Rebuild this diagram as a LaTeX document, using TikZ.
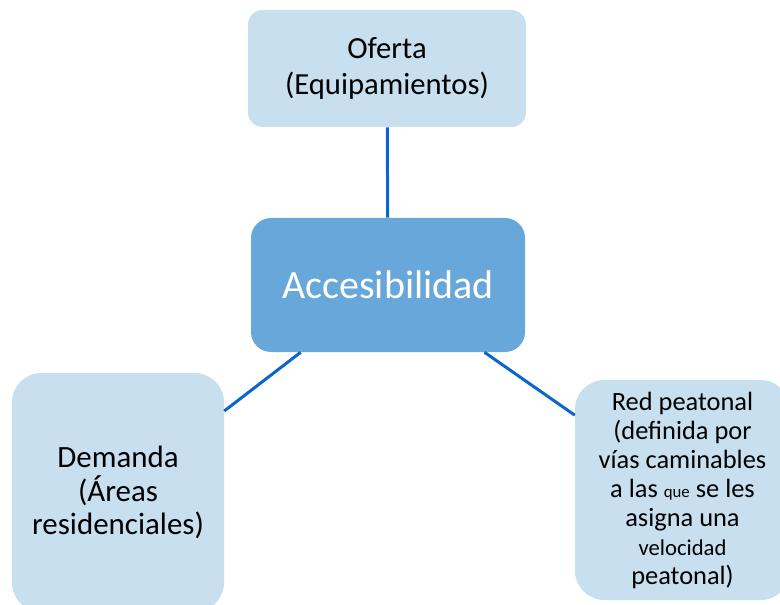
\documentclass[tikz,border=0pt]{standalone}
\usepackage{fontspec}
\setmainfont{Carlito}
\definecolor{boxlight}{RGB}{200,223,239}
\definecolor{boxdark}{RGB}{104,167,218}
\definecolor{linkblue}{RGB}{10,102,204}
\begin{document}
\begin{tikzpicture}[x=0.75pt,y=-0.75pt]

% definitions
\tikzstyle{oferta} = [rectangle, rounded corners=11pt, minimum width=208.5pt, minimum height=87.75pt, inner sep=0pt, align=center, fill=boxlight, font=\fontsize{23}{27}\selectfont]

\tikzstyle{centro} = [rectangle, rounded corners=15pt, minimum width=205.5pt, minimum height=100.5pt, inner sep=0pt, align=center, fill=boxdark, text=white, font=\fontsize{30}{34}\selectfont]

\tikzstyle{demanda} = [rectangle, rounded corners=22pt, minimum width=159pt, minimum height=179.25pt, inner sep=0pt, align=center, fill=boxlight, font=\fontsize{23.2}{25}\selectfont]

\tikzstyle{red} = [rectangle, rounded corners=22pt, minimum width=161.25pt, minimum height=165pt, inner sep=0pt, align=center, fill=boxlight, font=\fontsize{19.8}{21.75}\selectfont]

\tikzstyle{link} = [draw=linkblue, line width=2.25pt]

\useasboundingbox (0,0) rectangle (780,605);
\clip (0,0) rectangle (780,605);

% the graph
\node (ofert) [oferta] at (387,68.5) {Oferta\\(Equipamientos)};

\node (acces) [centro] at (388,285) {Accesibilidad};

\node (demand) [demanda] at (118,492.5) {Demanda\\(Áreas\\residenciales)};

\node (redpeat) [red] at (682.5,490) {Red peatonal\\(definida por\\vías caminables\\a las {\fontsize{12.6}{14}\selectfont que} se les\\asigna una\\{\fontsize{17}{19}\selectfont velocidad}\\peatonal)};

\draw [link] (acces) -- (ofert);
\draw [link] (acces) -- (demand);
\draw [link] (acces) -- (redpeat);

\end{tikzpicture}
\end{document}
